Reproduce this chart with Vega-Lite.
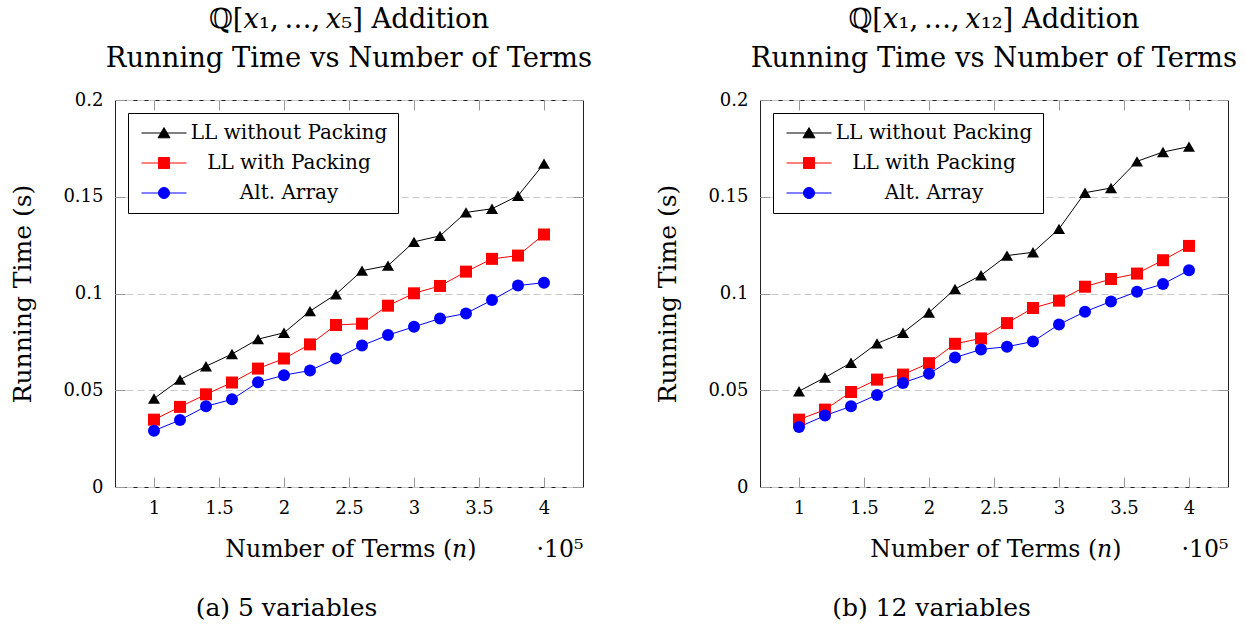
{
  "$schema": "https://vega.github.io/schema/vega-lite/v6.json",
  "background": "white",
  "padding": {"left": 10, "top": 5, "right": 5, "bottom": 5},
  "datasets": {
    "v5": [
      {"series": "LL without Packing", "n": 100000, "t": 0.0457},
      {"series": "LL without Packing", "n": 120000, "t": 0.0555},
      {"series": "LL without Packing", "n": 140000, "t": 0.0624},
      {"series": "LL without Packing", "n": 160000, "t": 0.0687},
      {"series": "LL without Packing", "n": 180000, "t": 0.0764},
      {"series": "LL without Packing", "n": 200000, "t": 0.0797},
      {"series": "LL without Packing", "n": 220000, "t": 0.0909},
      {"series": "LL without Packing", "n": 240000, "t": 0.0996},
      {"series": "LL without Packing", "n": 260000, "t": 0.1118},
      {"series": "LL without Packing", "n": 280000, "t": 0.1144},
      {"series": "LL without Packing", "n": 300000, "t": 0.1267},
      {"series": "LL without Packing", "n": 320000, "t": 0.1298},
      {"series": "LL without Packing", "n": 340000, "t": 0.1419},
      {"series": "LL without Packing", "n": 360000, "t": 0.1438},
      {"series": "LL without Packing", "n": 380000, "t": 0.1505},
      {"series": "LL without Packing", "n": 400000, "t": 0.1671},
      {"series": "LL with Packing", "n": 100000, "t": 0.0348},
      {"series": "LL with Packing", "n": 120000, "t": 0.0414},
      {"series": "LL with Packing", "n": 140000, "t": 0.0479},
      {"series": "LL with Packing", "n": 160000, "t": 0.0540},
      {"series": "LL with Packing", "n": 180000, "t": 0.0612},
      {"series": "LL with Packing", "n": 200000, "t": 0.0664},
      {"series": "LL with Packing", "n": 220000, "t": 0.0737},
      {"series": "LL with Packing", "n": 240000, "t": 0.0837},
      {"series": "LL with Packing", "n": 260000, "t": 0.0844},
      {"series": "LL with Packing", "n": 280000, "t": 0.0937},
      {"series": "LL with Packing", "n": 300000, "t": 0.1001},
      {"series": "LL with Packing", "n": 320000, "t": 0.1039},
      {"series": "LL with Packing", "n": 340000, "t": 0.1113},
      {"series": "LL with Packing", "n": 360000, "t": 0.1179},
      {"series": "LL with Packing", "n": 380000, "t": 0.1196},
      {"series": "LL with Packing", "n": 400000, "t": 0.1305},
      {"series": "Alt. Array", "n": 100000, "t": 0.0291},
      {"series": "Alt. Array", "n": 120000, "t": 0.0346},
      {"series": "Alt. Array", "n": 140000, "t": 0.0417},
      {"series": "Alt. Array", "n": 160000, "t": 0.0453},
      {"series": "Alt. Array", "n": 180000, "t": 0.0541},
      {"series": "Alt. Array", "n": 200000, "t": 0.0578},
      {"series": "Alt. Array", "n": 220000, "t": 0.0602},
      {"series": "Alt. Array", "n": 240000, "t": 0.0664},
      {"series": "Alt. Array", "n": 260000, "t": 0.0731},
      {"series": "Alt. Array", "n": 280000, "t": 0.0785},
      {"series": "Alt. Array", "n": 300000, "t": 0.0828},
      {"series": "Alt. Array", "n": 320000, "t": 0.0871},
      {"series": "Alt. Array", "n": 340000, "t": 0.0897},
      {"series": "Alt. Array", "n": 360000, "t": 0.0966},
      {"series": "Alt. Array", "n": 380000, "t": 0.1041},
      {"series": "Alt. Array", "n": 400000, "t": 0.1056}
    ],
    "v12": [
      {"series": "LL without Packing", "n": 100000, "t": 0.0495},
      {"series": "LL without Packing", "n": 120000, "t": 0.0566},
      {"series": "LL without Packing", "n": 140000, "t": 0.0642},
      {"series": "LL without Packing", "n": 160000, "t": 0.0742},
      {"series": "LL without Packing", "n": 180000, "t": 0.0797},
      {"series": "LL without Packing", "n": 200000, "t": 0.0902},
      {"series": "LL without Packing", "n": 220000, "t": 0.1023},
      {"series": "LL without Packing", "n": 240000, "t": 0.1094},
      {"series": "LL without Packing", "n": 260000, "t": 0.1196},
      {"series": "LL without Packing", "n": 280000, "t": 0.1213},
      {"series": "LL without Packing", "n": 300000, "t": 0.1334},
      {"series": "LL without Packing", "n": 320000, "t": 0.1521},
      {"series": "LL without Packing", "n": 340000, "t": 0.1545},
      {"series": "LL without Packing", "n": 360000, "t": 0.1683},
      {"series": "LL without Packing", "n": 380000, "t": 0.1731},
      {"series": "LL without Packing", "n": 400000, "t": 0.1759},
      {"series": "LL with Packing", "n": 100000, "t": 0.0348},
      {"series": "LL with Packing", "n": 120000, "t": 0.0400},
      {"series": "LL with Packing", "n": 140000, "t": 0.0491},
      {"series": "LL with Packing", "n": 160000, "t": 0.0555},
      {"series": "LL with Packing", "n": 180000, "t": 0.0581},
      {"series": "LL with Packing", "n": 200000, "t": 0.0640},
      {"series": "LL with Packing", "n": 220000, "t": 0.0740},
      {"series": "LL with Packing", "n": 240000, "t": 0.0768},
      {"series": "LL with Packing", "n": 260000, "t": 0.0847},
      {"series": "LL with Packing", "n": 280000, "t": 0.0925},
      {"series": "LL with Packing", "n": 300000, "t": 0.0963},
      {"series": "LL with Packing", "n": 320000, "t": 0.1035},
      {"series": "LL with Packing", "n": 340000, "t": 0.1075},
      {"series": "LL with Packing", "n": 360000, "t": 0.1103},
      {"series": "LL with Packing", "n": 380000, "t": 0.1172},
      {"series": "LL with Packing", "n": 400000, "t": 0.1246},
      {"series": "Alt. Array", "n": 100000, "t": 0.0310},
      {"series": "Alt. Array", "n": 120000, "t": 0.0369},
      {"series": "Alt. Array", "n": 140000, "t": 0.0417},
      {"series": "Alt. Array", "n": 160000, "t": 0.0476},
      {"series": "Alt. Array", "n": 180000, "t": 0.0538},
      {"series": "Alt. Array", "n": 200000, "t": 0.0585},
      {"series": "Alt. Array", "n": 220000, "t": 0.0669},
      {"series": "Alt. Array", "n": 240000, "t": 0.0711},
      {"series": "Alt. Array", "n": 260000, "t": 0.0725},
      {"series": "Alt. Array", "n": 280000, "t": 0.0752},
      {"series": "Alt. Array", "n": 300000, "t": 0.0840},
      {"series": "Alt. Array", "n": 320000, "t": 0.0906},
      {"series": "Alt. Array", "n": 340000, "t": 0.0959},
      {"series": "Alt. Array", "n": 360000, "t": 0.1009},
      {"series": "Alt. Array", "n": 380000, "t": 0.1049},
      {"series": "Alt. Array", "n": 400000, "t": 0.1120}
    ]
  },
  "spacing": 62,
  "resolve": {
    "scale": {"color": "independent", "fill": "independent", "stroke": "independent", "shape": "independent"},
    "legend": {"color": "independent", "fill": "independent", "stroke": "independent", "shape": "independent"}
  },
  "hconcat": [
    {
      "width": 468,
      "height": 387,
      "data": {"name": "v5"},
      "title": {"text": ["ℚ[𝑥₁,\u2009…,\u2009𝑥₅] Addition", "Running Time vs Number of Terms"], "anchor": "middle", "frame": "group", "font": "DejaVu Serif", "fontSize": 27.4, "fontWeight": "normal", "color": "black", "lineHeight": 39, "offset": 19},
      "resolve": {"axis": {"x": "independent", "y": "independent"}},
      "layer": [
        {
          "mark": {"type": "line", "strokeWidth": 1},
          "encoding": {
            "x": {"field": "n", "type": "quantitative", "scale": {"domain": [70000, 430000], "nice": false, "zero": false},
              "axis": {"orient": "bottom", "values": [100000, 150000, 200000, 250000, 300000, 350000, 400000], "labelExpr": "format(datum.value / 100000, '~g')", "grid": false, "domain": false, "offset": -10, "tickSize": 10, "labelPadding": 12, "titleAnchor": "end", "titleAlign": "right", "titlePadding": 20, "titleFontSize": 23.6,
                "title": "Number of Terms (𝑛)\u00a0\u00a0\u00a0\u00a0\u00a0\u00a0\u00a0\u00a0·10⁵"}},
            "y": {"field": "t", "type": "quantitative", "scale": {"domain": [0, 0.2], "nice": false},
              "axis": {"orient": "left", "values": [0, 0.05, 0.1, 0.15, 0.2], "format": ".2~f", "grid": true, "domain": false, "offset": -10, "tickSize": 10, "labelPadding": 12, "titlePadding": 27, "title": "Running Time (s)"}},
            "color": {"field": "series", "type": "nominal", "scale": {"range": ["#0000ff", "#ff0000", "#000000"]}, "legend": null}
          }
        },
        {
          "transform": [{"filter": "datum.series === 'LL without Packing'"}],
          "mark": {"type": "point", "shape": "triangle-up", "filled": true, "color": "#000000", "size": 144, "opacity": 1},
          "encoding": {
            "x": {"field": "n", "type": "quantitative", "axis": {"orient": "top", "values": [100000, 150000, 200000, 250000, 300000, 350000, 400000], "labels": false, "title": null, "grid": false, "domain": false, "offset": -10, "tickSize": 10}},
            "y": {"field": "t", "type": "quantitative", "axis": {"orient": "right", "values": [0, 0.05, 0.1, 0.15, 0.2], "labels": false, "title": null, "grid": false, "domain": false, "offset": -10, "tickSize": 10}}
          }
        },
        {
          "transform": [{"filter": "datum.series === 'LL with Packing'"}],
          "mark": {"type": "point", "shape": "square", "filled": true, "color": "#ff0000", "size": 144, "opacity": 1},
          "encoding": {
            "x": {"field": "n", "type": "quantitative", "axis": {"orient": "bottom", "labels": false, "ticks": false, "grid": false, "domain": false, "title": "(a) 5 variables", "titleX": 171, "titleY": 128, "titleAlign": "center", "titleBaseline": "alphabetic"}},
            "y": {"field": "t", "type": "quantitative", "axis": null}
          }
        },
        {
          "transform": [{"filter": "datum.series === 'Alt. Array'"}],
          "mark": {"type": "point", "shape": "circle", "filled": true, "color": "#0000ff", "size": 144, "opacity": 1},
          "encoding": {
            "x": {"field": "n", "type": "quantitative", "axis": null},
            "y": {"field": "t", "type": "quantitative", "axis": null}
          }
        },
        {
          "transform": [{"filter": "false"}],
          "mark": {"type": "point", "filled": true, "opacity": 1, "strokeWidth": 1},
          "encoding": {
            "fill": {"field": "series", "type": "nominal", "scale": {"domain": ["LL without Packing", "LL with Packing", "Alt. Array"], "range": ["#000000", "#ff0000", "#0000ff"]},
              "legend": {"title": null, "orient": "top-left", "offset": 13, "strokeColor": "black", "fillColor": "white", "padding": 10, "rowPadding": 10, "symbolSize": 144, "symbolStrokeWidth": 1, "symbolOffset": 16, "labelOffset": 115, "labelAlign": "center", "labelFont": "DejaVu Serif", "labelFontSize": 20, "labelColor": "black", "labelLimit": 400, "cornerRadius": 0}},
            "stroke": {"field": "series", "type": "nominal", "scale": {"domain": ["LL without Packing", "LL with Packing", "Alt. Array"], "range": ["#000000", "#ff0000", "#0000ff"]},
              "legend": {"title": null, "orient": "top-left", "offset": 13, "strokeColor": "black", "fillColor": "white", "padding": 10, "rowPadding": 10, "symbolSize": 144, "symbolStrokeWidth": 1, "symbolOffset": 16, "labelOffset": 115, "labelAlign": "center", "labelFont": "DejaVu Serif", "labelFontSize": 20, "labelColor": "black", "labelLimit": 400, "cornerRadius": 0}},
            "shape": {"field": "series", "type": "nominal", "scale": {"domain": ["LL without Packing", "LL with Packing", "Alt. Array"], "range": ["M-3.75,0H3.75M0,-0.9L1,0.8L-1,0.8Z", "M-3.75,0H3.75M-0.92,-0.92H0.92V0.92H-0.92Z", "M-3.75,0H3.75M-0.92,0A0.92,0.92 0 1,0 0.92,0A0.92,0.92 0 1,0 -0.92,0Z"]},
              "legend": {"title": null, "orient": "top-left", "offset": 13, "strokeColor": "black", "fillColor": "white", "padding": 10, "rowPadding": 10, "symbolSize": 144, "symbolStrokeWidth": 1, "symbolOffset": 16, "labelOffset": 115, "labelAlign": "center", "labelFont": "DejaVu Serif", "labelFontSize": 20, "labelColor": "black", "labelLimit": 400, "cornerRadius": 0}}
          }
        }
      ]
    },
    {
      "width": 468,
      "height": 387,
      "data": {"name": "v12"},
      "title": {"text": ["ℚ[𝑥₁,\u2009…,\u2009𝑥₁₂] Addition", "Running Time vs Number of Terms"], "anchor": "middle", "frame": "group", "font": "DejaVu Serif", "fontSize": 27.4, "fontWeight": "normal", "color": "black", "lineHeight": 39, "offset": 19},
      "resolve": {"axis": {"x": "independent", "y": "independent"}},
      "layer": [
        {
          "mark": {"type": "line", "strokeWidth": 1},
          "encoding": {
            "x": {"field": "n", "type": "quantitative", "scale": {"domain": [70000, 430000], "nice": false, "zero": false},
              "axis": {"orient": "bottom", "values": [100000, 150000, 200000, 250000, 300000, 350000, 400000], "labelExpr": "format(datum.value / 100000, '~g')", "grid": false, "domain": false, "offset": -10, "tickSize": 10, "labelPadding": 12, "titleAnchor": "end", "titleAlign": "right", "titlePadding": 20, "titleFontSize": 23.6,
                "title": "Number of Terms (𝑛)\u00a0\u00a0\u00a0\u00a0\u00a0\u00a0\u00a0\u00a0·10⁵"}},
            "y": {"field": "t", "type": "quantitative", "scale": {"domain": [0, 0.2], "nice": false},
              "axis": {"orient": "left", "values": [0, 0.05, 0.1, 0.15, 0.2], "format": ".2~f", "grid": true, "domain": false, "offset": -10, "tickSize": 10, "labelPadding": 12, "titlePadding": 27, "title": "Running Time (s)"}},
            "color": {"field": "series", "type": "nominal", "scale": {"range": ["#0000ff", "#ff0000", "#000000"]}, "legend": null}
          }
        },
        {
          "transform": [{"filter": "datum.series === 'LL without Packing'"}],
          "mark": {"type": "point", "shape": "triangle-up", "filled": true, "color": "#000000", "size": 144, "opacity": 1},
          "encoding": {
            "x": {"field": "n", "type": "quantitative", "axis": {"orient": "top", "values": [100000, 150000, 200000, 250000, 300000, 350000, 400000], "labels": false, "title": null, "grid": false, "domain": false, "offset": -10, "tickSize": 10}},
            "y": {"field": "t", "type": "quantitative", "axis": {"orient": "right", "values": [0, 0.05, 0.1, 0.15, 0.2], "labels": false, "title": null, "grid": false, "domain": false, "offset": -10, "tickSize": 10}}
          }
        },
        {
          "transform": [{"filter": "datum.series === 'LL with Packing'"}],
          "mark": {"type": "point", "shape": "square", "filled": true, "color": "#ff0000", "size": 144, "opacity": 1},
          "encoding": {
            "x": {"field": "n", "type": "quantitative", "axis": {"orient": "bottom", "labels": false, "ticks": false, "grid": false, "domain": false, "title": "(b) 12 variables", "titleX": 171, "titleY": 128, "titleAlign": "center", "titleBaseline": "alphabetic"}},
            "y": {"field": "t", "type": "quantitative", "axis": null}
          }
        },
        {
          "transform": [{"filter": "datum.series === 'Alt. Array'"}],
          "mark": {"type": "point", "shape": "circle", "filled": true, "color": "#0000ff", "size": 144, "opacity": 1},
          "encoding": {
            "x": {"field": "n", "type": "quantitative", "axis": null},
            "y": {"field": "t", "type": "quantitative", "axis": null}
          }
        },
        {
          "transform": [{"filter": "false"}],
          "mark": {"type": "point", "filled": true, "opacity": 1, "strokeWidth": 1},
          "encoding": {
            "fill": {"field": "series", "type": "nominal", "scale": {"domain": ["LL without Packing", "LL with Packing", "Alt. Array"], "range": ["#000000", "#ff0000", "#0000ff"]},
              "legend": {"title": null, "orient": "top-left", "offset": 13, "strokeColor": "black", "fillColor": "white", "padding": 10, "rowPadding": 10, "symbolSize": 144, "symbolStrokeWidth": 1, "symbolOffset": 16, "labelOffset": 115, "labelAlign": "center", "labelFont": "DejaVu Serif", "labelFontSize": 20, "labelColor": "black", "labelLimit": 400, "cornerRadius": 0}},
            "stroke": {"field": "series", "type": "nominal", "scale": {"domain": ["LL without Packing", "LL with Packing", "Alt. Array"], "range": ["#000000", "#ff0000", "#0000ff"]},
              "legend": {"title": null, "orient": "top-left", "offset": 13, "strokeColor": "black", "fillColor": "white", "padding": 10, "rowPadding": 10, "symbolSize": 144, "symbolStrokeWidth": 1, "symbolOffset": 16, "labelOffset": 115, "labelAlign": "center", "labelFont": "DejaVu Serif", "labelFontSize": 20, "labelColor": "black", "labelLimit": 400, "cornerRadius": 0}},
            "shape": {"field": "series", "type": "nominal", "scale": {"domain": ["LL without Packing", "LL with Packing", "Alt. Array"], "range": ["M-3.75,0H3.75M0,-0.9L1,0.8L-1,0.8Z", "M-3.75,0H3.75M-0.92,-0.92H0.92V0.92H-0.92Z", "M-3.75,0H3.75M-0.92,0A0.92,0.92 0 1,0 0.92,0A0.92,0.92 0 1,0 -0.92,0Z"]},
              "legend": {"title": null, "orient": "top-left", "offset": 13, "strokeColor": "black", "fillColor": "white", "padding": 10, "rowPadding": 10, "symbolSize": 144, "symbolStrokeWidth": 1, "symbolOffset": 16, "labelOffset": 115, "labelAlign": "center", "labelFont": "DejaVu Serif", "labelFontSize": 20, "labelColor": "black", "labelLimit": 400, "cornerRadius": 0}}
          }
        }
      ]
    }
  ],
  "config": {
    "font": "DejaVu Serif",
    "view": {"stroke": "#222222", "strokeWidth": 1},
    "axis": {
      "labelFont": "DejaVu Serif",
      "labelFontSize": 18,
      "labelColor": "#000000",
      "titleFont": "DejaVu Serif",
      "titleFontSize": 25,
      "titleFontWeight": "normal",
      "titleColor": "#000000",
      "tickColor": "#999999",
      "tickWidth": 1,
      "gridColor": "#c8c8c8",
      "gridDash": [7, 4],
      "gridWidth": 1
    }
  }
}
